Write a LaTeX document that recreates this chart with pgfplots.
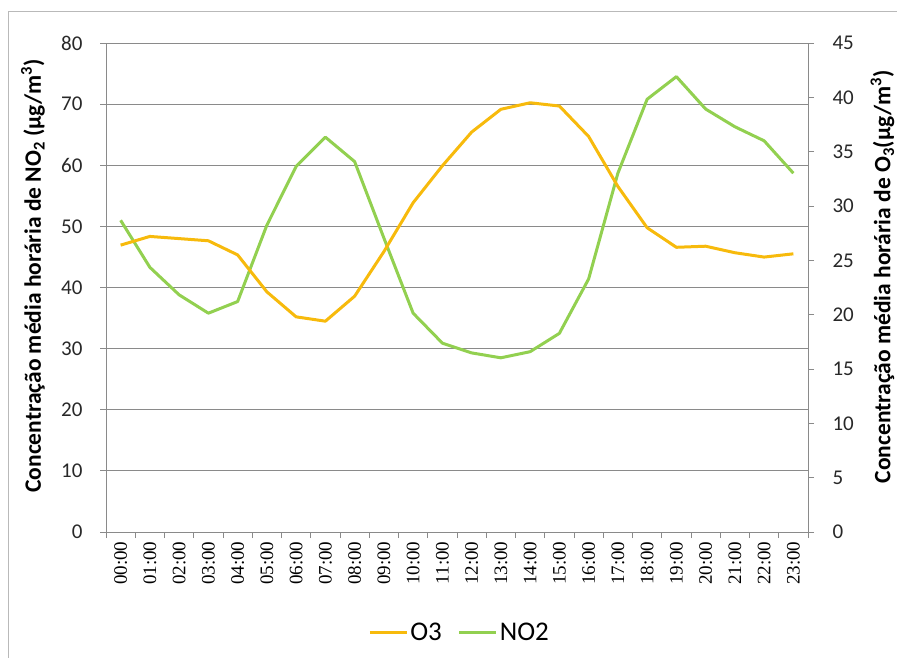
\documentclass[border=0pt]{standalone}
\usepackage{fontspec}
\setmainfont{Carlito}
\newfontfamily\serifticks{Liberation Serif}
\usepackage{pgfplots}
\pgfplotsset{compat=1.18}
\definecolor{oz}{RGB}{247,186,12}
\definecolor{nox}{RGB}{146,208,80}
\definecolor{gridc}{RGB}{138,138,138}
\definecolor{txt}{RGB}{40,40,40}

\pgfplotstableread{
x no2
0 51.0
1 43.3
2 38.8
3 35.8
4 37.7
5 50.2
6 59.8
7 64.6
8 60.6
9 48.1
10 35.8
11 30.9
12 29.3
13 28.5
14 29.5
15 32.5
16 41.4
17 58.7
18 70.8
19 74.5
20 69.2
21 66.3
22 64.0
23 58.7
}\noxtable

\pgfplotstableread{
x o3
0 26.4
1 27.2
2 27.0
3 26.8
4 25.5
5 22.1
6 19.8
7 19.4
8 21.7
9 25.8
10 30.3
11 33.7
12 36.8
13 38.9
14 39.5
15 39.2
16 36.4
17 31.8
18 28.0
19 26.2
20 26.3
21 25.7
22 25.3
23 25.6
}\oztable

\begin{document}
\begin{tikzpicture}
\useasboundingbox (0pt,0pt) rectangle (897pt,657pt);
\draw[gridc!60, line width=1pt] (8pt,-20pt) rectangle (920pt,645pt);
\pgfplotsset{
  common/.style={
    at={(106pt,125pt)}, anchor=south west, scale only axis,
    width=702pt, height=489pt,
    xmin=-0.5, xmax=23.5,
    axis line style={gridc, line width=0.9pt},
    tick style={gridc, line width=0.9pt},
    tick align=outside, major tick length=6pt, minor tick length=6pt,
    /pgf/number format/assume math mode=true,
    yticklabel style={font=\fontsize{21}{21}\selectfont, text=txt},
    ylabel style={font=\bfseries\fontsize{23.5}{23.5}\selectfont, anchor=center},
  }
}
\begin{axis}[common,
  ymin=0, ymax=80, ytick={0,10,...,80},
  axis x line*=bottom, axis y line*=left,
  ymajorgrids, grid style={gridc, line width=0.9pt},
  xtick={0,...,23},
  xticklabels={00:00,01:00,02:00,03:00,04:00,05:00,06:00,07:00,08:00,09:00,10:00,11:00,12:00,13:00,14:00,15:00,16:00,17:00,18:00,19:00,20:00,21:00,22:00,23:00},
  xticklabel style={rotate=90, anchor=east, font=\serifticks\fontsize{19}{19}\selectfont, text=black, xshift=0pt},
  major x tick style={draw=none},
  minor xtick={-0.5,0.5,...,23.5},
  yticklabel style={xshift=-14pt},
  ylabel={Concentração média horária de NO\textsubscript{2} (µg/m\textsuperscript{3})},
  ylabel style={at={(axis description cs:-0.104,0.524)}},
]
\addplot[nox, line width=3pt, line join=round] table[x=x, y=no2] {\noxtable};
\end{axis}
\begin{axis}[common,
  ymin=0, ymax=45, ytick={0,5,...,45},
  axis x line=none, axis y line*=right,
  yticklabel style={xshift=15pt},
  ylabel={Concentração média horária de O\textsubscript{3}(µg/m\textsuperscript{3})},
  ylabel style={at={(axis description cs:1.106,0.522)}},
  legend style={at={(0.5036,-0.2045)}, anchor=center, draw=none, fill=none,
    legend columns=2, font=\fontsize{27}{27}\selectfont,
    /tikz/every even column/.append style={column sep=14pt},
    /tikz/every odd column/.append style={inner xsep=2pt}},
  legend image code/.code={\draw[#1] (0pt,0pt) -- (37pt,0pt);},
]
\addplot[oz, line width=3pt, line join=round] table[x=x, y=o3] {\oztable};
\addlegendentry{O3}
\addlegendimage{nox, line width=3pt}
\addlegendentry{NO2}
\end{axis}
\end{tikzpicture}
\end{document}
